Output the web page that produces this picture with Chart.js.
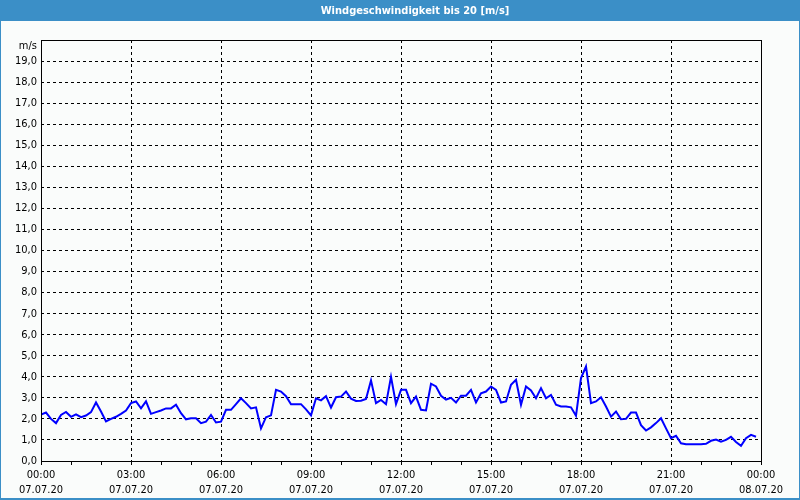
<!DOCTYPE html>
<html>
<head>
<meta charset="utf-8">
<script src="https://cdn.jsdelivr.net/npm/chart.js@4/dist/chart.umd.min.js"></script>
<style>
  html, body { margin: 0; padding: 0; background: #fafcfb; }
  canvas { display: block; }
</style>
</head>
<body>
<canvas id="c" width="800" height="500"></canvas>
<script>
// ---- data ----
const chartTitle = 'Windgeschwindigkeit bis 20 [m/s]';
const unitLabel = 'm/s';
const sampleMinutes = 10; // one reading every 10 minutes, starting 07.07.20 00:00
const speed = [
  2.2, 2.3, 2.0, 1.8, 2.19, 2.33, 2.1, 2.22, 2.08, 2.16, 2.32, 2.78, 2.35, 1.88, 2.0, 2.1, 2.24, 2.4,
  2.75, 2.83, 2.5, 2.83, 2.24, 2.32, 2.4, 2.5, 2.5, 2.67, 2.27, 1.98, 2.03, 2.03, 1.8, 1.87, 2.19, 1.83,
  1.87, 2.43, 2.43, 2.7, 2.98, 2.75, 2.5, 2.55, 1.55, 2.08, 2.17, 3.38, 3.3, 3.08, 2.7, 2.7, 2.7, 2.45,
  2.17, 2.98, 2.88, 3.08, 2.54, 3.03, 3.06, 3.3, 2.96, 2.85, 2.86, 2.95, 3.83, 2.75, 2.9, 2.7, 4.0, 2.7,
  3.38, 3.38, 2.75, 3.06, 2.43, 2.4, 3.67, 3.54, 3.1, 2.92, 3.0, 2.78, 3.1, 3.1, 3.38, 2.78, 3.22, 3.3,
  3.54, 3.38, 2.78, 2.83, 3.62, 3.86, 2.67, 3.54, 3.35, 2.98, 3.46, 2.98, 3.14, 2.67, 2.59, 2.59, 2.55, 2.15,
  3.94, 4.49, 2.75, 2.83, 3.03, 2.59, 2.11, 2.35, 1.98, 2.0, 2.3, 2.3, 1.7, 1.45, 1.6, 1.8, 2.03, 1.55,
  1.08, 1.2, 0.84, 0.8, 0.8, 0.8, 0.8, 0.82, 0.96, 1.02, 0.92, 1.0, 1.15, 0.9, 0.72, 1.08, 1.24, 1.15
];
const xTickTimes = ['00:00', '03:00', '06:00', '09:00', '12:00', '15:00', '18:00', '21:00', '00:00'];
const xTickDates = ['07.07.20', '07.07.20', '07.07.20', '07.07.20', '07.07.20', '07.07.20', '07.07.20', '07.07.20', '08.07.20'];
const yTickLabels = ['0,0','1,0','2,0','3,0','4,0','5,0','6,0','7,0','8,0','9,0','10,0',
  '11,0','12,0','13,0','14,0','15,0','16,0','17,0','18,0','19,0',''];

// ---- styles ----
const FONT = "'DejaVu Sans Condensed', 'DejaVu Sans', sans-serif";
const FRAME_BLUE = '#3b8fc7';

const points = speed.map((v, i) => ({ x: i * sampleMinutes, y: v }));

const framePlugin = {
  id: 'frame',
  beforeDraw(chart) {
    const ctx = chart.ctx;
    const W = chart.width, H = chart.height;
    ctx.save();
    ctx.fillStyle = '#fafcfb';
    ctx.fillRect(0, 0, W, H);
    ctx.fillStyle = FRAME_BLUE;
    ctx.fillRect(0, 0, W, 21);
    ctx.fillRect(0, 0, 1, H);
    ctx.fillRect(W - 1, 0, 1, H);
    ctx.fillRect(0, H - 2, W, 2);
    ctx.fillStyle = '#ffffff';
    ctx.font = "bold 11px " + FONT;
    ctx.textAlign = 'center';
    ctx.textBaseline = 'middle';
    ctx.fillText(chartTitle, 415, 11);
    ctx.restore();
  },
  afterDraw(chart) {
    const ctx = chart.ctx;
    const a = chart.chartArea;
    ctx.save();
    ctx.strokeStyle = '#000';
    ctx.lineWidth = 1;
    ctx.setLineDash([]);
    ctx.strokeRect(a.left + 0.5, a.top + 0.5, a.right - a.left, a.bottom - a.top);
    ctx.fillStyle = '#000';
    ctx.font = "11px " + FONT;
    ctx.textAlign = 'right';
    ctx.textBaseline = 'middle';
    ctx.fillText(unitLabel, a.left - 4, a.top + 6);
    ctx.restore();
  }
};

new Chart(document.getElementById('c'), {
  type: 'line',
  data: {
    datasets: [{
      data: points,
      borderColor: '#0000ff',
      borderWidth: 2,
      pointRadius: 0,
      tension: 0,
      fill: false
    }]
  },
  options: {
    responsive: false,
    animation: false,
    devicePixelRatio: 1,
    layout: { padding: { left: 0, right: 39, top: 40, bottom: 0 } },
    plugins: { legend: { display: false }, tooltip: { enabled: false }, title: { display: false } },
    scales: {
      x: {
        type: 'linear',
        min: 0,
        max: 1440,
        afterFit(scale) { scale.height = 39; },
        border: { display: false, dash: [3, 3] },
        grid: {
          color: (c) => (c.tick && c.tick.value % 180 === 0) ? '#000' : 'rgba(0,0,0,0)',
          tickColor: '#000',
          tickLength: 4,
          drawTicks: true
        },
        ticks: {
          stepSize: 60,
          autoSkip: false,
          maxRotation: 0,
          padding: 3,
          color: '#000',
          font: { family: FONT, size: 11, lineHeight: 1.32 },
          callback: (v) => {
            if (v % 180 !== 0) return '';
            const k = v / 180;
            return [xTickTimes[k], xTickDates[k]];
          }
        }
      },
      y: {
        min: 0,
        max: 20,
        afterFit(scale) { scale.width = 41; },
        border: { display: false, dash: [3, 3] },
        grid: { color: '#000', drawTicks: false },
        ticks: {
          stepSize: 1,
          padding: 4,
          color: '#000',
          font: { family: FONT, size: 11 },
          callback: (v) => yTickLabels[v]
        }
      }
    }
  },
  plugins: [framePlugin]
});
</script>
</body>
</html>
